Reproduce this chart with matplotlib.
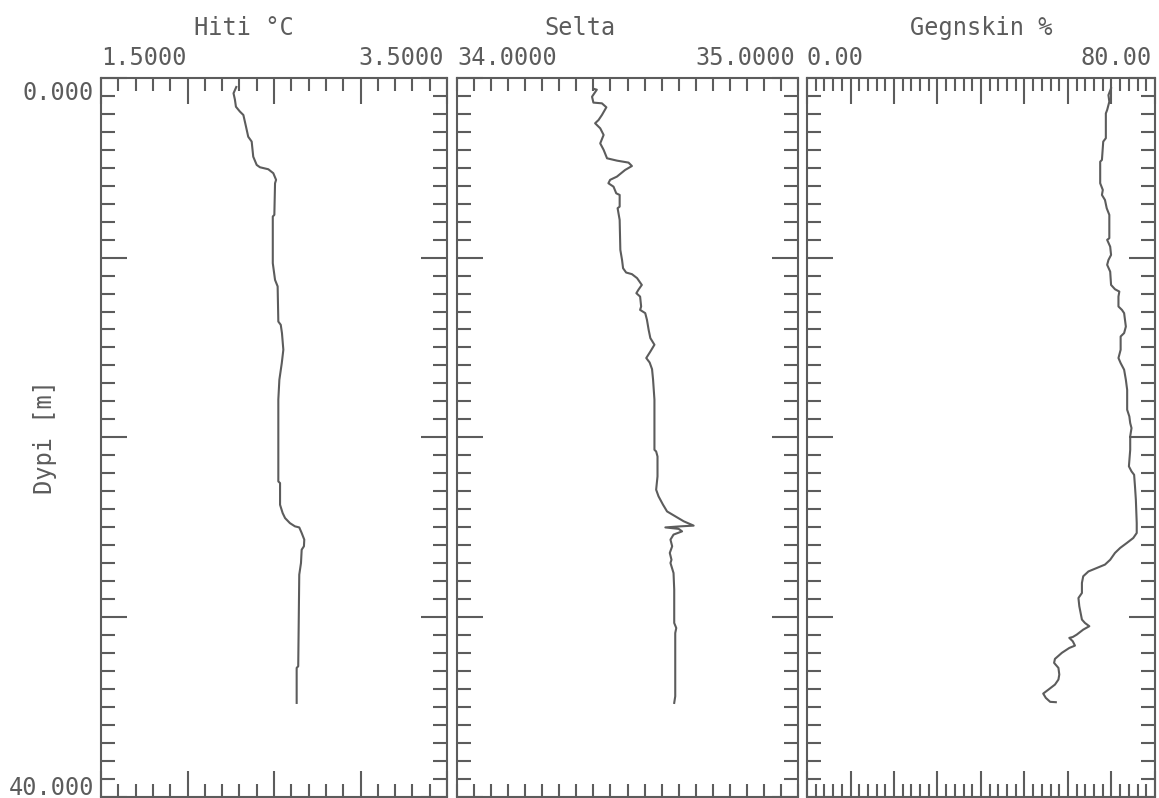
import numpy as np
import matplotlib.pyplot as plt
from matplotlib.ticker import MultipleLocator

grey = '#5c5c5c'
plt.rcParams['font.family'] = 'DejaVu Sans Mono'
plt.rcParams['font.size'] = 17
plt.rcParams['text.color'] = grey

# Hiti (temperatur)
hiti_dypi = [0.5, 0.85, 1.2, 1.6, 1.87, 2.06, 2.7, 3.27, 3.54, 4.38,
             4.84, 4.97, 5.08, 5.3, 5.67, 5.86, 7.62, 7.71, 10.31, 11.24,
             11.6, 13.56, 13.74, 14.2, 15.13, 15.87, 16.8, 17.9, 22.46, 22.55,
             23.76, 24.22, 24.5, 24.78, 24.96, 25.02, 25.33, 25.7, 26.07, 26.26,
             27.0, 27.65, 32.75, 32.84, 34.79]
hiti = [2.282, 2.266, 2.274, 2.280, 2.303, 2.323, 2.338, 2.351, 2.371, 2.380,
        2.400, 2.419, 2.467, 2.496, 2.512, 2.506, 2.502, 2.493, 2.493, 2.506,
        2.521, 2.525, 2.539, 2.546, 2.554, 2.545, 2.531, 2.525, 2.525, 2.535,
        2.535, 2.550, 2.564, 2.592, 2.621, 2.646, 2.660, 2.675, 2.673, 2.660,
        2.656, 2.646, 2.640, 2.631, 2.631]

# Selta (salinitet)
selta_dypi = [0.6, 0.65, 1.04, 1.37, 1.41, 1.63, 2.06, 2.34, 2.52, 2.8,
              3.17, 3.64, 4.0, 4.47, 4.6, 4.71, 4.9, 5.12, 5.49, 5.67,
              5.86, 6.05, 6.42, 6.51, 7.16, 7.25, 7.9, 9.57, 10.13, 10.59,
              10.83, 10.92, 11.14, 11.52, 11.79, 11.98, 12.17, 12.72, 12.91, 13.09,
              13.46, 14.02, 14.48, 14.85, 15.23, 15.59, 15.84, 16.21, 16.8, 17.91,
              20.7, 20.79, 21.07, 22.18, 22.92, 23.29, 23.75, 24.13, 24.4, 24.68,
              24.92, 24.96, 25.02, 25.1, 25.24, 25.42, 25.7, 26.07, 26.44, 26.82,
              27.0, 27.56, 28.48, 30.34, 30.62, 30.9, 34.42, 34.79]
selta = [34.400, 34.410, 34.396, 34.400, 34.425, 34.438, 34.425, 34.415, 34.405, 34.420,
         34.430, 34.420, 34.430, 34.440, 34.469, 34.503, 34.513, 34.493, 34.469, 34.449,
         34.444, 34.459, 34.467, 34.477, 34.477, 34.471, 34.477, 34.479, 34.484, 34.487,
         34.496, 34.513, 34.528, 34.542, 34.532, 34.526, 34.537, 34.540, 34.537, 34.552,
         34.557, 34.562, 34.567, 34.579, 34.567, 34.555, 34.565, 34.572, 34.575, 34.579,
         34.579, 34.584, 34.588, 34.588, 34.584, 34.591, 34.604, 34.616, 34.640, 34.665,
         34.694, 34.655, 34.611, 34.650, 34.660, 34.635, 34.626, 34.631, 34.624, 34.629,
         34.626, 34.635, 34.637, 34.637, 34.643, 34.640, 34.640, 34.637]

# Gegnskin (siktdjup i %)
gegn_dypi = [0.57, 0.95, 1.32, 1.78, 1.97, 3.35, 3.54, 4.56, 4.66, 5.86,
             6.23, 6.51, 6.79, 7.25, 7.62, 8.92, 9.01, 9.39, 9.85, 10.13,
             10.4, 10.78, 11.52, 11.76, 11.89, 12.17, 12.72, 12.91, 13.09, 13.84,
             14.2, 14.39, 15.13, 15.59, 15.87, 16.24, 16.8, 17.36, 18.47, 18.84,
             19.21, 19.49, 19.95, 20.7, 21.62, 21.9, 22.09, 22.74, 23.48, 24.78,
             25.33, 25.61, 25.89, 26.16, 26.44, 26.82, 27.09, 27.28, 27.47, 27.74,
             28.11, 28.67, 28.95, 29.41, 30.15, 30.34, 30.52, 30.71, 30.99, 31.12,
             31.17, 31.36, 31.6, 31.73, 32.0, 32.34, 32.56, 32.84, 33.21, 33.49,
             33.77, 34.05, 34.27, 34.51, 34.73, 34.75]
gegn = [69.9, 69.3, 69.5, 69.0, 68.7, 68.7, 68.1, 67.8, 67.4, 67.4,
        68.0, 67.8, 68.5, 68.9, 69.5, 69.5, 69.0, 69.7, 69.9, 69.3,
        69.0, 69.7, 69.9, 70.8, 71.8, 71.6, 71.6, 72.4, 72.9, 73.3,
        72.9, 72.1, 72.1, 71.6, 72.1, 72.9, 73.3, 73.6, 73.6, 74.1,
        74.3, 74.6, 74.3, 74.3, 74.0, 74.6, 75.2, 75.4, 75.6, 75.8,
        75.8, 75.0, 73.5, 72.0, 70.8, 69.7, 68.5, 66.6, 64.7, 63.5,
        63.2, 63.2, 62.4, 62.6, 63.2, 63.9, 64.9, 63.5, 62.0, 61.1,
        60.3, 61.1, 61.6, 60.3, 58.6, 57.0, 56.8, 57.8, 58.0, 57.8,
        57.0, 55.5, 54.3, 54.9, 55.9, 57.2]

W, H = 1159, 798
fig = plt.figure(figsize=(W / 100, H / 100), dpi=100)
bot = 1.5 / H
top = 1 - 78 / H

panels = [
    # left px, width px, data, xlim, major, minor, title, title pos, labels
    (101, 346, hiti, hiti_dypi, (1.5, 3.5), 0.5, 0.1, 'Hiti °C', 0.413, ('1.5000', '3.5000')),
    (457, 341, selta, selta_dypi, (34.0, 35.0), 0.05, 0.05, 'Selta', 0.361, ('34.0000', '35.0000')),
    (807, 348, gegn, gegn_dypi, (0, 80), 10, 2, 'Gegnskin %', 0.5, ('0.00', '80.00')),
]

for i, (lp, wp, vals, dyp, xl, maj, mino, title, tpos, xlabs) in enumerate(panels):
    ax = fig.add_axes([lp / W, bot, wp / W, top - bot])
    ax.plot(vals, dyp, color=grey, lw=1.5)
    ax.set_xlim(*xl)
    ax.set_ylim(40, 0)
    ax.xaxis.set_major_locator(MultipleLocator(maj))
    ax.xaxis.set_minor_locator(MultipleLocator(mino))
    ax.yaxis.set_major_locator(MultipleLocator(10))
    ax.yaxis.set_minor_locator(MultipleLocator(1))
    for s in ax.spines.values():
        s.set_color(grey)
        s.set_linewidth(1.5)
    xmaj_len = 19 if maj != mino else 9.5
    ax.tick_params(which='both', direction='in', top=True, bottom=True,
                   left=True, right=True, labelbottom=False, labelleft=False,
                   color=grey, width=1.5)
    ax.tick_params(axis='x', which='major', length=xmaj_len)
    ax.tick_params(axis='x', which='minor', length=9.5)
    ax.tick_params(axis='y', which='major', length=19)
    ax.tick_params(axis='y', which='minor', length=10)

    ax.annotate(title, xy=(tpos, 1), xycoords='axes fraction',
                xytext=(0, 31), textcoords='offset points',
                ha='center', va='baseline')
    ax.annotate(xlabs[0], xy=(0, 1), xycoords='axes fraction',
                xytext=(0, 9.5), textcoords='offset points',
                ha='left', va='baseline')
    ax.annotate(xlabs[1], xy=(1, 1), xycoords='axes fraction',
                xytext=(-2, 9.5), textcoords='offset points',
                ha='right', va='baseline')

    if i == 0:
        ax.annotate('0.000', xy=(0, 1), xycoords='axes fraction',
                    xytext=(-5, -16), textcoords='offset points',
                    ha='right', va='baseline')
        ax.annotate('40.000', xy=(0, 0), xycoords='axes fraction',
                    xytext=(-5, 1), textcoords='offset points',
                    ha='right', va='baseline')
        ax.annotate('Dypi [m]', xy=(0, 0.5), xycoords='axes fraction',
                    xytext=(-40, 0), textcoords='offset points',
                    ha='center', va='center', rotation=90)

fig.savefig('out.png', dpi=100)
